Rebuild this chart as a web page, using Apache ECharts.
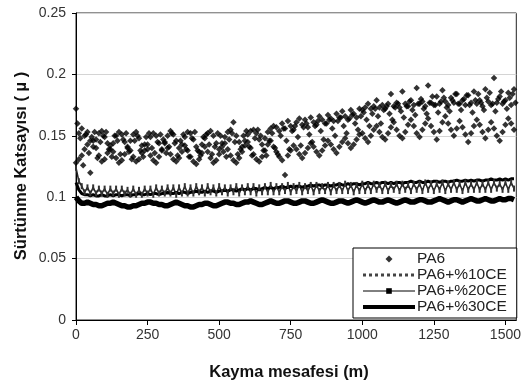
<!DOCTYPE html>
<html><head><meta charset="utf-8">
<script src="https://cdn.jsdelivr.net/npm/echarts@6/dist/echarts.min.js"></script>
<style>html,body{margin:0;padding:0;background:#fff}#c{width:524px;height:385px}</style>
</head><body><div id="c"></div>
<script>
// Distance sampling step (m)
const stepM = 10;
const yTicks = ['0', '0.05', '0.1', '0.15', '0.2', '0.25'];
const xTicks = ['0', '250', '500', '750', '1000', '1250', '1500'];
const seriesNames = ['PA6', 'PA6+%10CE', 'PA6+%20CE', 'PA6+%30CE'];

// PA6 scatter: interleaved bands of points
const pa6Upper = [
0.172,0.152,0.156,0.150,0.153,0.146,0.141,0.147,0.152,0.154,
0.149,0.144,0.139,0.144,0.150,0.153,0.151,0.145,0.140,0.146,
0.151,0.153,0.148,0.142,0.138,0.143,0.149,0.152,0.150,0.144,
0.139,0.145,0.150,0.154,0.151,0.146,0.140,0.143,0.149,0.153,
0.152,0.147,0.141,0.137,0.143,0.148,0.152,0.154,0.150,0.144,
0.139,0.144,0.149,0.153,0.155,0.161,0.150,0.145,0.141,0.146,
0.151,0.154,0.155,0.152,0.147,0.143,0.148,0.153,0.156,0.158,
0.157,0.154,0.160,0.156,0.162,0.158,0.155,0.161,0.164,0.159,
0.163,0.157,0.165,0.161,0.159,0.166,0.163,0.160,0.167,0.164,
0.162,0.168,0.165,0.170,0.166,0.163,0.171,0.168,0.165,0.172,
0.171,0.173,0.176,0.172,0.174,0.179,0.173,0.175,0.172,0.176,
0.184,0.174,0.177,0.173,0.186,0.176,0.174,0.179,0.175,0.189,
0.176,0.178,0.174,0.191,0.177,0.175,0.182,0.176,0.187,0.178,
0.175,0.181,0.177,0.184,0.176,0.179,0.175,0.183,0.177,0.186,
0.176,0.179,0.174,0.188,0.178,0.175,0.197,0.177,0.182,0.176,
0.179,0.185,0.175,0.188];
const pa6Mid = [
0.160,0.148,0.126,0.151,0.136,0.149,0.153,0.132,0.145,0.150,
0.153,0.139,0.133,0.150,0.146,0.135,0.147,0.152,0.137,0.131,
0.146,0.150,0.138,0.133,0.149,0.152,0.140,0.136,0.145,0.151,
0.147,0.136,0.141,0.152,0.144,0.134,0.146,0.151,0.139,0.133,
0.148,0.153,0.138,0.134,0.149,0.151,0.143,0.135,0.141,0.152,
0.150,0.137,0.133,0.147,0.152,0.145,0.135,0.139,0.150,0.154,
0.141,0.134,0.148,0.155,0.150,0.138,0.134,0.146,0.152,0.140,
0.135,0.150,0.156,0.146,0.139,0.154,0.158,0.149,0.142,0.157,
0.160,0.151,0.145,0.158,0.162,0.154,0.147,0.160,0.163,0.156,
0.150,0.162,0.165,0.158,0.152,0.164,0.167,0.160,0.155,0.166,
0.169,0.163,0.158,0.168,0.172,0.166,0.160,0.171,0.174,0.168,
0.163,0.173,0.176,0.170,0.165,0.174,0.178,0.171,0.167,0.176,
0.180,0.172,0.168,0.177,0.182,0.175,0.169,0.178,0.181,0.173,
0.170,0.179,0.184,0.176,0.171,0.180,0.183,0.175,0.169,0.179,
0.184,0.177,0.171,0.181,0.185,0.176,0.170,0.180,0.186,0.178,
0.172,0.181,0.184,0.177];
const pa6Lower = [
0.128,0.131,0.134,0.139,0.143,0.120,0.146,0.140,0.134,0.129,
0.131,0.136,0.142,0.137,0.132,0.128,0.130,0.135,0.141,0.138,
0.133,0.129,0.131,0.136,0.143,0.139,0.134,0.130,0.128,0.133,
0.138,0.144,0.140,0.135,0.131,0.129,0.132,0.137,0.142,0.138,
0.133,0.129,0.127,0.131,0.136,0.141,0.137,0.132,0.128,0.130,
0.135,0.141,0.144,0.139,0.134,0.130,0.128,0.132,0.137,0.142,
0.145,0.140,0.135,0.131,0.129,0.133,0.138,0.143,0.146,0.141,
0.137,0.133,0.130,0.118,0.134,0.138,0.142,0.139,0.135,0.132,
0.136,0.140,0.144,0.141,0.137,0.134,0.138,0.142,0.146,0.143,
0.139,0.136,0.141,0.145,0.148,0.144,0.140,0.143,0.147,0.151,
0.152,0.148,0.145,0.150,0.155,0.158,0.153,0.149,0.147,0.152,
0.157,0.161,0.155,0.150,0.148,0.153,0.159,0.163,0.158,0.152,
0.149,0.155,0.160,0.164,0.158,0.153,0.147,0.154,0.161,0.166,
0.160,0.155,0.150,0.156,0.162,0.157,0.151,0.145,0.152,0.158,
0.163,0.159,0.153,0.148,0.155,0.161,0.156,0.150,0.146,0.153,
0.159,0.164,0.160,0.155];
const ce10 = [
0.124,0.113,0.109,0.104,0.108,0.103,0.108,0.103,0.107,0.103,
0.107,0.102,0.107,0.103,0.107,0.102,0.107,0.103,0.106,0.102,
0.107,0.102,0.106,0.102,0.107,0.103,0.107,0.102,0.108,0.103,
0.107,0.103,0.108,0.103,0.108,0.102,0.108,0.103,0.109,0.103,
0.108,0.103,0.109,0.104,0.108,0.103,0.109,0.104,0.108,0.103,
0.109,0.104,0.108,0.103,0.108,0.104,0.109,0.103,0.108,0.104,
0.109,0.104,0.109,0.103,0.108,0.104,0.109,0.104,0.110,0.104,
0.109,0.104,0.109,0.105,0.110,0.104,0.109,0.105,0.110,0.104,
0.109,0.105,0.110,0.104,0.110,0.105,0.109,0.105,0.110,0.104,
0.110,0.105,0.110,0.105,0.111,0.105,0.110,0.104,0.110,0.105,
0.111,0.105,0.110,0.105,0.111,0.106,0.110,0.105,0.111,0.105,
0.110,0.106,0.111,0.105,0.111,0.106,0.110,0.105,0.111,0.106,
0.111,0.105,0.112,0.106,0.111,0.105,0.111,0.106,0.112,0.105,
0.111,0.106,0.112,0.106,0.111,0.105,0.112,0.106,0.111,0.106,
0.112,0.106,0.111,0.106,0.112,0.106,0.112,0.107,0.111,0.106,
0.112,0.106,0.112,0.107];
const ce20 = [
0.112,0.106,0.103,0.102,0.102,0.101,0.102,0.101,0.101,0.102,
0.101,0.101,0.102,0.101,0.102,0.102,0.101,0.102,0.102,0.101,
0.102,0.102,0.103,0.102,0.102,0.103,0.102,0.103,0.103,0.102,
0.103,0.103,0.104,0.103,0.103,0.104,0.103,0.104,0.104,0.103,
0.104,0.104,0.105,0.104,0.104,0.105,0.104,0.105,0.105,0.104,
0.105,0.105,0.106,0.105,0.106,0.106,0.105,0.106,0.107,0.106,
0.107,0.106,0.107,0.107,0.106,0.107,0.108,0.107,0.108,0.107,
0.108,0.108,0.109,0.108,0.108,0.109,0.108,0.109,0.109,0.108,
0.109,0.109,0.110,0.109,0.110,0.110,0.109,0.110,0.110,0.109,
0.110,0.110,0.111,0.110,0.110,0.111,0.110,0.111,0.111,0.110,
0.111,0.111,0.112,0.111,0.111,0.112,0.111,0.112,0.112,0.111,
0.112,0.111,0.112,0.112,0.111,0.112,0.112,0.113,0.112,0.112,
0.113,0.112,0.112,0.113,0.112,0.113,0.113,0.112,0.113,0.113,
0.112,0.113,0.113,0.114,0.113,0.113,0.114,0.113,0.114,0.113,
0.114,0.114,0.113,0.114,0.114,0.115,0.114,0.114,0.115,0.114,
0.115,0.114,0.115,0.115];
const ce30 = [
0.100,0.097,0.095,0.095,0.096,0.095,0.094,0.094,0.093,0.093,
0.094,0.095,0.095,0.096,0.095,0.094,0.093,0.093,0.092,0.092,
0.093,0.093,0.094,0.095,0.095,0.096,0.096,0.095,0.095,0.094,
0.094,0.093,0.093,0.094,0.095,0.096,0.095,0.094,0.093,0.093,
0.092,0.092,0.093,0.094,0.094,0.095,0.095,0.094,0.093,0.093,
0.094,0.095,0.096,0.096,0.095,0.095,0.094,0.094,0.095,0.096,
0.096,0.097,0.096,0.095,0.094,0.094,0.095,0.096,0.097,0.096,
0.095,0.095,0.096,0.097,0.097,0.096,0.095,0.095,0.096,0.097,
0.097,0.096,0.095,0.095,0.096,0.097,0.098,0.097,0.096,0.095,
0.095,0.096,0.097,0.097,0.096,0.095,0.096,0.097,0.098,0.097,
0.096,0.095,0.096,0.097,0.098,0.097,0.096,0.096,0.097,0.098,
0.097,0.096,0.095,0.096,0.097,0.098,0.097,0.096,0.096,0.097,
0.098,0.098,0.097,0.096,0.096,0.097,0.098,0.099,0.098,0.097,
0.096,0.097,0.098,0.098,0.097,0.096,0.097,0.098,0.099,0.098,
0.097,0.097,0.098,0.099,0.098,0.097,0.097,0.098,0.099,0.098,
0.098,0.099,0.099,0.098];

const dist = [];
for (let i = 0; i < pa6Upper.length; i++) dist.push(i * stepM);
const pair = (arr, off) => arr.map((v, i) => [dist[i] + (off || 0), v]);

const font = 'Liberation Sans, Arial, sans-serif';
const hidden = {color: 'rgba(0,0,0,0)', opacity: 0, borderWidth: 0};
const chart = echarts.init(document.getElementById('c'), null, {renderer: 'canvas'});
chart.setOption({
  animation: false,
  backgroundColor: '#fff',
  grid: {left: 76, right: 3, top: 13, bottom: 65, show: true, borderColor: '#222', borderWidth: 1, backgroundColor: 'transparent'},
  xAxis: {
    type: 'value', min: 0, max: 1538, interval: 250,
    axisLine: {lineStyle: {color: '#000', width: 1}},
    axisTick: {length: 5, lineStyle: {color: '#000'}},
    splitLine: {show: false},
    axisLabel: {showMaxLabel: false, margin: 8, color: '#333', fontFamily: font, fontSize: 14,
      formatter: v => xTicks.indexOf(String(v)) >= 0 ? String(v) : ''}
  },
  yAxis: {
    type: 'value', min: 0, max: 0.25, interval: 0.05,
    axisLine: {show: true, lineStyle: {color: '#000', width: 1}},
    axisTick: {show: true, length: 4, lineStyle: {color: '#000'}},
    splitLine: {show: true, lineStyle: {color: '#d4d4d4', width: 1}},
    axisLabel: {margin: 10, color: '#333', fontFamily: font, fontSize: 14,
      formatter: v => yTicks[Math.round(v / 0.05)]}
  },
  legend: {
    orient: 'vertical', left: 353, top: 248,
    backgroundColor: '#fff', borderColor: '#000', borderWidth: 1,
    padding: [3, 10, 3, 8], itemWidth: 52, itemHeight: 7, itemGap: 0,
    symbolKeepAspect: true,
    textStyle: {fontFamily: font, fontSize: 15.5, color: '#222', lineHeight: 15.5, padding: [0, 0, 0, -3]},
    data: [
      {name: seriesNames[0], icon: 'path://M5,0L10,5L5,10L0,5Z'},
      {name: seriesNames[1], lineStyle: {type: 'dotted', width: 3, color: '#444'}, itemStyle: hidden},
      {name: seriesNames[2], lineStyle: {width: 1, color: '#000'}},
      {name: seriesNames[3], lineStyle: {width: 4, color: '#000'}, itemStyle: hidden}
    ]
  },
  graphic: [
    {type: 'text', x: 289, y: 372, style: {text: 'Kayma mesafesi (m)', font: 'bold 16.5px ' + font, fill: '#111', align: 'center', verticalAlign: 'middle'}},
    {type: 'text', rotation: Math.PI / 2, x: 21, y: 166, style: {text: 'Sürtünme Katsayısı ( µ )', font: 'bold 16.5px ' + font, fill: '#111', align: 'center', verticalAlign: 'middle'}}
  ],
  series: [
    {name: seriesNames[0], type: 'scatter', symbol: 'diamond', symbolSize: 6.5,
      itemStyle: {color: '#000'}, data: pair(pa6Upper).concat(pair(pa6Mid, 5), pair(pa6Lower)), z: 5},
    {name: seriesNames[1], type: 'line', showSymbol: true, showAllSymbol: true, symbol: 'rect', symbolSize: [2, 6],
      lineStyle: {color: '#222', width: 1.5}, itemStyle: {color: '#333'}, data: pair(ce10), z: 3},
    {name: seriesNames[2], type: 'line', showSymbol: false, symbol: 'rect',
      lineStyle: {color: '#000', width: 3}, itemStyle: {color: '#000'}, data: pair(ce20), z: 3},
    {name: seriesNames[3], type: 'line', showSymbol: false, symbol: 'none',
      lineStyle: {color: '#000', width: 5.5}, itemStyle: {color: '#000'}, data: pair(ce30), z: 4}
  ]
});
</script></body></html>
